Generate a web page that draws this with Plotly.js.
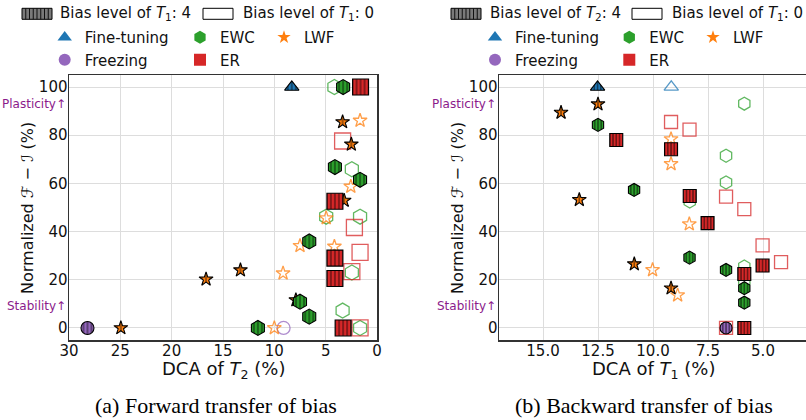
<!DOCTYPE html>
<html><head><meta charset="utf-8">
<script src="https://cdn.plot.ly/plotly-3.0.1.min.js"></script>
<style>html,body{margin:0;padding:0;overflow:hidden;background:#fff}#chart{width:810px;height:420px}</style>
</head><body><div id="chart"></div>
<script>
// ---------- DATA ----------
// Panel (a): Forward transfer — x: DCA of T2 (%), y: normalized F−I (%)
// "4" = bias level 4 (filled, hatched), "0" = bias level 0 (hollow)
const fwdFineTuneX4 = [8.3],  fwdFineTuneY4 = [100];
const fwdFreezeX4   = [28.2], fwdFreezeY4   = [0];
const fwdFreezeX0   = [9.1],  fwdFreezeY0   = [0];
const fwdEwcX4 = [3.3, 4.1, 1.65, 6.6, 7.5, 6.6, 11.6];
const fwdEwcY4 = [100, 66.8, 61.5, 35.9, 10.9, 4.7, 0];
const fwdEwcX0 = [4.15, 2.45, 4.95, 1.65, 2.45, 3.35, 1.65];
const fwdEwcY0 = [100, 65.9, 46.2, 46.2, 23.0, 7.2, 0];
const fwdLwfX4 = [3.35, 2.5, 3.2, 13.3, 16.65, 7.9, 24.95];
const fwdLwfY4 = [85.5, 76.2, 52.9, 24.0, 20.2, 11.6, 0];
const fwdLwfX0 = [1.65, 2.55, 4.95, 7.5, 4.15, 9.15, 10.0];
const fwdLwfY0 = [86.1, 58.7, 45.6, 34.1, 33.8, 22.7, 0];
const fwdErX4 = [1.6, 4.1, 4.1, 4.1, 3.3];
const fwdErY4 = [100, 52.6, 29.0, 20.5, 0];
const fwdErX0 = [3.35, 2.2, 1.65, 2.45, 1.65];
const fwdErY0 = [77.6, 41.7, 31.4, 23.4, 0];

// Panel (b): Backward transfer — x: DCA of T1 (%), y: normalized F−I (%)
const bwdFineTuneX4 = [12.52], bwdFineTuneY4 = [100];
const bwdFineTuneX0 = [9.17],  bwdFineTuneY0 = [100];
const bwdFreezeX4   = [6.68],  bwdFreezeY4   = [0];
const bwdEwcX4 = [12.5, 10.86, 8.34, 6.68, 5.85, 5.85];
const bwdEwcY4 = [84.3, 57.3, 29.2, 24.1, 16.5, 10.5];
const bwdEwcX0 = [5.85, 6.68, 6.68, 8.33, 5.85, 5.85];
const bwdEwcY0 = [93.1, 71.5, 60.4, 52.5, 25.5, 19.5];
const bwdLwfX4 = [12.5, 14.18, 13.35, 10.85, 9.18];
const bwdLwfY4 = [92.9, 89.4, 53.2, 26.5, 16.5];
const bwdLwfX0 = [9.18, 9.18, 8.35, 10.02, 8.88];
const bwdLwfY0 = [78.4, 68.1, 43.1, 24.1, 13.6];
const bwdErX4 = [11.67, 9.18, 8.33, 7.52, 5.02, 5.85, 5.85];
const bwdErY4 = [78.0, 74.2, 54.8, 43.5, 25.9, 22.4, 0];
const bwdErX0 = [9.18, 8.34, 6.68, 5.85, 5.02, 4.18, 6.68];
const bwdErY0 = [85.5, 82.3, 54.5, 49.3, 34.3, 27.3, 0];

const methodNames = ['Fine-tuning', 'Freezing', 'EWC', 'ER', 'LWF'];
const fwdTicks = [30, 25, 20, 15, 10, 5, 0];
const bwdTicks = [15.0, 12.5, 10.0, 7.5, 5.0];
const yTicks = [0, 20, 40, 60, 80, 100];

// ---------- STYLE ----------
const FONT = 'DejaVu Sans, Liberation Sans, Arial, sans-serif';
const SERIF = 'Liberation Serif, Times New Roman, DejaVu Serif, serif';
const C = {ft: '#1f77b4', fz: '#9467bd', ewc: '#2ca02c', lwf: '#ff7f0e', er: '#d62728'};
const SYM = {ft: 'triangle-up', fz: 'circle', ewc: 'hexagon', lwf: 'star', er: 'square'};
const SIZE_L = {ft: 12.5, fz: 13, ewc: 15, lwf: 10.5, er: 16};
const SIZE_R = {ft: 12.5, fz: 12, ewc: 13, lwf: 10.5, er: 13};
const HATCH = {L: 4, R: 3.25};

const W = 810, H = 420, ML = 69, MR = 3, MT = 75, MB = 80;
const PW = W - ML - MR, PH = H - MT - MB;
const px = x => (x - ML) / PW;
const py = y => (H - MB - y) / PH;

const hatchInfo = {};
function filled(xs, ys, xa, ya, k, sizes, side) {
  const uid = 'h' + side + k;
  hatchInfo[uid] = {color: C[k], step: HATCH[side]};
  return {type: 'scatter', mode: 'markers', x: xs, y: ys, xaxis: xa, yaxis: ya, uid: uid,
    showlegend: false, hoverinfo: 'skip', cliponaxis: false,
    marker: {symbol: SYM[k], color: C[k], size: sizes[k], line: {color: '#000', width: 1.1}}};
}
function hollow(xs, ys, xa, ya, k, sizes) {
  return {type: 'scatter', mode: 'markers', x: xs, y: ys, xaxis: xa, yaxis: ya,
    showlegend: false, hoverinfo: 'skip', cliponaxis: false,
    marker: {symbol: SYM[k] + '-open', color: C[k], size: sizes[k], opacity: 0.75,
      line: {color: C[k], width: 1.3}}};
}
function legendEntry(k, name, leg) {
  const ls = {ft: 12.5, fz: 12, ewc: 13, lwf: 10, er: 12};
  return {type: 'scatter', mode: 'markers', x: [null], y: [null], name: name, legend: leg,
    showlegend: true, hoverinfo: 'skip',
    marker: {symbol: SYM[k], color: C[k], size: ls[k]}};
}

const traces = [
  // panel (a) hollow
  hollow(fwdFreezeX0, fwdFreezeY0, 'x', 'y', 'fz', SIZE_L),
  hollow(fwdEwcX0, fwdEwcY0, 'x', 'y', 'ewc', SIZE_L),
  hollow(fwdLwfX0, fwdLwfY0, 'x', 'y', 'lwf', SIZE_L),
  hollow(fwdErX0, fwdErY0, 'x', 'y', 'er', SIZE_L),
  // panel (a) filled
  filled(fwdFineTuneX4, fwdFineTuneY4, 'x', 'y', 'ft', SIZE_L, 'L'),
  filled(fwdFreezeX4, fwdFreezeY4, 'x', 'y', 'fz', SIZE_L, 'L'),
  filled(fwdLwfX4, fwdLwfY4, 'x', 'y', 'lwf', SIZE_L, 'L'),
  filled(fwdEwcX4, fwdEwcY4, 'x', 'y', 'ewc', SIZE_L, 'L'),
  filled(fwdErX4, fwdErY4, 'x', 'y', 'er', SIZE_L, 'L'),
  // panel (b) hollow
  hollow(bwdFineTuneX0, bwdFineTuneY0, 'x2', 'y2', 'ft', SIZE_R),
  hollow(bwdEwcX0, bwdEwcY0, 'x2', 'y2', 'ewc', SIZE_R),
  hollow(bwdLwfX0, bwdLwfY0, 'x2', 'y2', 'lwf', SIZE_R),
  hollow(bwdErX0, bwdErY0, 'x2', 'y2', 'er', SIZE_R),
  // panel (b) filled
  filled(bwdFineTuneX4, bwdFineTuneY4, 'x2', 'y2', 'ft', SIZE_R, 'R'),
  filled(bwdLwfX4, bwdLwfY4, 'x2', 'y2', 'lwf', SIZE_R, 'R'),
  filled(bwdEwcX4, bwdEwcY4, 'x2', 'y2', 'ewc', SIZE_R, 'R'),
  filled(bwdErX4, bwdErY4, 'x2', 'y2', 'er', SIZE_R, 'R'),
  filled(bwdFreezeX4, bwdFreezeY4, 'x2', 'y2', 'fz', SIZE_R, 'R'),
  // legend keys
  legendEntry('ft', methodNames[0], 'legend'), legendEntry('fz', methodNames[1], 'legend'),
  legendEntry('ewc', methodNames[2], 'legend2'), legendEntry('er', methodNames[3], 'legend2'),
  legendEntry('lwf', methodNames[4], 'legend3'),
  legendEntry('ft', methodNames[0], 'legend4'), legendEntry('fz', methodNames[1], 'legend4'),
  legendEntry('ewc', methodNames[2], 'legend5'), legendEntry('er', methodNames[3], 'legend5'),
  legendEntry('lwf', methodNames[4], 'legend6')
];

const axisCommon = {
  showgrid: true, gridcolor: '#dddddd', gridwidth: 1, zeroline: false,
  showline: true, mirror: true, linecolor: '#333', linewidth: 1.5,
  ticks: '', tickfont: {family: FONT, size: 15, color: '#111'}, automargin: false,
  ticklabelstandoff: -3
};
const titleFont = {family: FONT, size: 18, color: '#111'};
const yTitle = 'Normalized ℱ − ℐ (%)';

function legendBox(xpx) {
  return {x: px(xpx), y: py(21), xanchor: 'left', yanchor: 'top', orientation: 'v',
    bgcolor: 'rgba(0,0,0,0)', borderwidth: 0, itemwidth: 30, tracegroupgap: 0,
    font: {family: FONT, size: 15, color: '#111'}};
}

const shapes = [];
const annotations = [];
function biasKey(x0, textX, label, hatched) {
  shapes.push({type: 'rect', xref: 'paper', yref: 'paper', x0: px(x0), x1: px(x0 + 30),
    y0: py(19.3), y1: py(8.3), fillcolor: hatched ? '#7a7a7a' : '#ffffff',
    line: {color: '#000', width: 1}});
  if (hatched) {
    for (let k = 1; k < 8; k++) {
      shapes.push({type: 'line', xref: 'paper', yref: 'paper', x0: px(x0 + k * 3.75), x1: px(x0 + k * 3.75),
        y0: py(19.3), y1: py(8.3), line: {color: '#111', width: 1}});
    }
  }
  annotations.push({xref: 'paper', yref: 'paper', x: px(textX), y: py(13.5), xanchor: 'left', yanchor: 'middle',
    text: label, showarrow: false, font: {family: FONT, size: 15, color: '#111'}});
}
biasKey(22, 58, 'Bias level of <i>T</i><sub>1</sub>: 4', true);
biasKey(203, 241, 'Bias level of <i>T</i><sub>1</sub>: 0', false);
biasKey(451, 488, 'Bias level of <i>T</i><sub>2</sub>: 4', true);
biasKey(632, 670, 'Bias level of <i>T</i><sub>1</sub>: 0', false);

[['x domain', 'y'], ['x2 domain', 'y2']].forEach(([xr, yr]) => {
  annotations.push({xref: xr, yref: yr, x: -0.004, y: 93, xanchor: 'right', yanchor: 'middle',
    text: 'Plasticity↑', showarrow: false, font: {family: FONT, size: 12, color: '#8b1a8b'}});
  annotations.push({xref: xr, yref: yr, x: -0.004, y: 9, xanchor: 'right', yanchor: 'middle',
    text: 'Stability↑', showarrow: false, font: {family: FONT, size: 12, color: '#8b1a8b'}});
});
// axis titles (placed as annotations for exact position)
[27, 457].forEach(xc => {
  annotations.push({xref: 'paper', yref: 'paper', x: px(xc), y: py(208), xanchor: 'center', yanchor: 'middle',
    textangle: -90, text: yTitle, showarrow: false, font: {family: FONT, size: 16, color: '#111'}});
});
annotations.push({xref: 'paper', yref: 'paper', x: px(223), y: py(370), xanchor: 'center', yanchor: 'middle',
  text: 'DCA of <i>T</i><sub>2</sub> (%)', showarrow: false, font: titleFont});
annotations.push({xref: 'paper', yref: 'paper', x: px(653), y: py(370), xanchor: 'center', yanchor: 'middle',
  text: 'DCA of <i>T</i><sub>1</sub> (%)', showarrow: false, font: titleFont});
annotations.push({xref: 'paper', yref: 'paper', x: px(216), y: py(405.5), xanchor: 'center', yanchor: 'middle',
  text: '(a) Forward transfer of bias', showarrow: false, font: {family: SERIF, size: 22, color: '#000'}});
annotations.push({xref: 'paper', yref: 'paper', x: px(644), y: py(405.5), xanchor: 'center', yanchor: 'middle',
  text: '(b) Backward transfer of bias', showarrow: false, font: {family: SERIF, size: 22, color: '#000'}});

const layout = {
  width: W, height: H, margin: {l: ML, r: MR, t: MT, b: MB},
  paper_bgcolor: '#fff', plot_bgcolor: '#fff', font: {family: FONT, color: '#111'},
  xaxis: Object.assign({}, axisCommon, {domain: [0, 308 / PW], range: [30, 0], tickvals: fwdTicks, anchor: 'y',
    ticklabelstandoff: -4}),
  yaxis: Object.assign({}, axisCommon, {domain: [0, 1], range: [-5, 105], tickvals: yTicks, anchor: 'x'}),
  xaxis2: Object.assign({}, axisCommon, {domain: [430 / PW, 1], range: [17, 3], tickvals: bwdTicks,
    tickformat: '.1f', anchor: 'y2', ticklabelstandoff: -4}),
  yaxis2: Object.assign({}, axisCommon, {domain: [0, 1], range: [-5, 105], tickvals: yTicks, anchor: 'x2'}),
  legend: legendBox(44.7), legend2: legendBox(180), legend3: legendBox(264),
  legend4: legendBox(475), legend5: legendBox(609.3), legend6: legendBox(693),
  shapes: shapes, annotations: annotations, showlegend: true
};

function applyHatch(gd) {
  const NS = 'http://www.w3.org/2000/svg';
  const svg = gd.querySelector('svg.main-svg');
  let defs = svg.querySelector('defs');
  if (!defs) { defs = document.createElementNS(NS, 'defs'); svg.insertBefore(defs, svg.firstChild); }
  Object.keys(hatchInfo).forEach(uid => {
    const info = hatchInfo[uid];
    const s = info.step;
    const pat = document.createElementNS(NS, 'pattern');
    pat.setAttribute('id', 'pat-' + uid);
    pat.setAttribute('patternUnits', 'userSpaceOnUse');
    pat.setAttribute('width', s); pat.setAttribute('height', 40);
    pat.setAttribute('x', -s / 2); pat.setAttribute('y', 0);
    const r = document.createElementNS(NS, 'rect');
    r.setAttribute('width', s); r.setAttribute('height', 40); r.setAttribute('fill', info.color);
    const l = document.createElementNS(NS, 'line');
    l.setAttribute('x1', s / 2); l.setAttribute('x2', s / 2); l.setAttribute('y1', 0); l.setAttribute('y2', 40);
    l.setAttribute('stroke', '#000'); l.setAttribute('stroke-width', 0.9); l.setAttribute('stroke-opacity', 0.85);
    pat.appendChild(r); pat.appendChild(l); defs.appendChild(pat);
    gd.querySelectorAll('g.trace' + uid + ' path.point').forEach(p => { p.style.fill = 'url(#pat-' + uid + ')'; });
  });
}

Plotly.newPlot('chart', traces, layout, {staticPlot: true, displayModeBar: false}).then(applyHatch);
</script></body></html>
